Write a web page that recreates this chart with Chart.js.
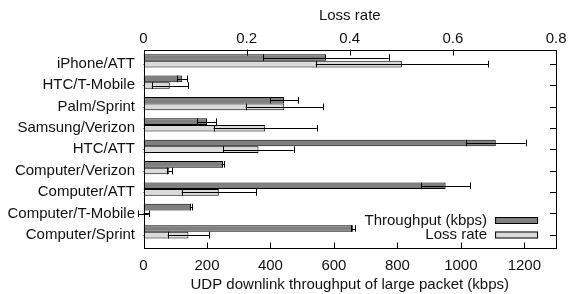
<!DOCTYPE html>
<html lang="en">
<head>
  <meta charset="UTF-8" />
  <title>UDP downlink throughput of large packet</title>
  <script src="https://cdn.jsdelivr.net/npm/chart.js"></script>
  <style>
    body { margin: 0; background: #fff; }
    #wrap { width: 568px; height: 294px; }
  </style>
</head>
<body>
  <div id="wrap"><canvas id="udpChart" width="568" height="294"></canvas></div>

  <script>
    // values
    const categories = ['iPhone/ATT', 'HTC/T-Mobile', 'Palm/Sprint', 'Samsung/Verizon', 'HTC/ATT',
                        'Computer/Verizon', 'Computer/ATT', 'Computer/T-Mobile', 'Computer/Sprint'];
    const throughput    = [575, 122, 443, 200, 1110, 250, 952, 150, 661];
    const throughputErr = [197, 15, 45, 30, 94, 4, 77, 3, 6];
    const lossRate      = [0.501, 0.051, 0.273, 0.236, 0.223, 0.05, 0.146, 0, 0.087];
    const lossErr       = [0.167, 0.035, 0.075, 0.1, 0.068, 0.005, 0.072, 0.01, 0.04];
    const throughputTicks = [0, 200, 400, 600, 800, 1000, 1200];
    const lossTicks = [0, 0.2, 0.4, 0.6, 0.8];

    const FONT = "'Liberation Sans', Arial, sans-serif";
    const TEXT = '#111';

    // frame, inward tics, error bars and the inside legend (gnuplot look)
    const gnuplotBits = {
      id: 'gnuplotBits',
      beforeDatasetsDraw(chart) {
        const { ctx, chartArea: a, scales } = chart;
        ctx.save();
        ctx.strokeStyle = '#000';
        ctx.lineWidth = 1;
        categories.forEach((c, i) => {
          const y = Math.round(scales.y.getPixelForValue(i) + 3) + 0.5;
          ctx.beginPath();
          ctx.moveTo(a.left, y); ctx.lineTo(a.left + 6, y);
          ctx.stroke();
        });
        ctx.restore();
      },
      afterDatasetsDraw(chart) {
        const { ctx } = chart;
        const errs = [throughputErr, lossErr];
        ctx.save();
        ctx.strokeStyle = '#000';
        ctx.lineWidth = 1;
        chart.data.datasets.forEach((ds, di) => {
          const meta = chart.getDatasetMeta(di);
          const xs = chart.scales[ds.xAxisID];
          meta.data.forEach((bar, i) => {
            const { y, height } = bar.getProps(['y', 'height'], true);
            const v = ds.data[i].x;
            const lo = xs.getPixelForValue(v - errs[di][i]);
            const hi = xs.getPixelForValue(v + errs[di][i]);
            const yy = Math.round(y) + 0.5;
            const h = height / 2;
            ctx.beginPath();
            ctx.moveTo(lo, yy); ctx.lineTo(hi, yy);
            ctx.moveTo(Math.round(lo) + 0.5, y - h); ctx.lineTo(Math.round(lo) + 0.5, y + h);
            ctx.moveTo(Math.round(hi) + 0.5, y - h); ctx.lineTo(Math.round(hi) + 0.5, y + h);
            ctx.stroke();
          });
        });
        ctx.restore();
      },
      afterDraw(chart) {
        const { ctx, chartArea: a, scales } = chart;
        ctx.save();
        ctx.strokeStyle = '#000';
        ctx.lineWidth = 1;
        ctx.strokeRect(Math.round(a.left) + 0.5, Math.round(a.top) + 0.5,
                       Math.round(a.right - a.left) - 1, Math.round(a.bottom - a.top) - 1);

        ctx.beginPath();
        throughputTicks.slice(1).forEach(v => {
          const x = Math.round(scales.x.getPixelForValue(v)) + 0.5;
          ctx.moveTo(x, a.bottom); ctx.lineTo(x, a.bottom - 6);
        });
        lossTicks.slice(1, -1).forEach(v => {
          const x = Math.round(scales.x2.getPixelForValue(v)) + 0.5;
          ctx.moveTo(x, a.top); ctx.lineTo(x, a.top + 6);
        });
        categories.forEach((c, i) => {
          const y = Math.round(scales.y.getPixelForValue(i) + 3) + 0.5;
          ctx.moveTo(a.right, y); ctx.lineTo(a.right - 6, y);
        });
        ctx.stroke();

        // legend inside the plot, bottom right
        ctx.font = '15px ' + FONT;
        ctx.textAlign = 'right';
        ctx.textBaseline = 'middle';
        chart.data.datasets.forEach((ds, di) => {
          const cy = a.bottom - 28 + di * 14.5;
          ctx.fillStyle = TEXT;
          ctx.fillText(ds.label, a.right - 69, cy);
          ctx.fillStyle = ds.backgroundColor;
          ctx.fillRect(a.right - 61, cy - 3.5, 43, 7);
          ctx.strokeRect(a.right - 60.5, cy - 3, 42, 6);
        });
        ctx.restore();
      }
    };

    new Chart(document.getElementById('udpChart').getContext('2d'), {
      type: 'bar',
      data: {
        datasets: [{
          label: 'Throughput (kbps)',
          data: throughput.map((v, i) => ({ x: v, y: i })),
          xAxisID: 'x',
          backgroundColor: '#808080',
          borderColor: '#000',
          borderWidth: 1
        }, {
          label: 'Loss rate',
          data: lossRate.map((v, i) => ({ x: v, y: i })),
          xAxisID: 'x2',
          backgroundColor: '#dadada',
          borderColor: '#000',
          borderWidth: 1
        }]
      },
      options: {
        indexAxis: 'y',
        responsive: false,
        animation: false,
        categoryPercentage: 0.62,
        barPercentage: 1,
        layout: { padding: { right: 8 } },
        plugins: { legend: { display: false }, tooltip: { enabled: false } },
        scales: {
          y: {
            type: 'linear',
            reverse: true,
            offset: false,
            min: -0.53,
            max: 8.78,
            grid: { display: false, drawTicks: false },
            border: { display: false },
            afterBuildTicks: s => { s.ticks = categories.map((c, i) => ({ value: i })); },
            afterFit: s => { s.width = 143.5; },
            ticks: {
              autoSkip: false,
              labelOffset: 3,
              padding: 8.5,
              color: TEXT,
              font: { family: FONT, size: 15 },
              callback: v => categories[v]
            }
          },
          x: {
            type: 'linear',
            position: 'bottom',
            min: 0,
            max: 1300,
            grid: { display: false, drawTicks: false },
            border: { display: false },
            afterBuildTicks: s => { s.ticks = throughputTicks.map(v => ({ value: v })); },
            afterFit: s => { s.height = 45.5; },
            ticks: { padding: 8.5, color: TEXT, font: { family: FONT, size: 15 }, callback: v => String(v) },
            title: {
              display: true,
              text: 'UDP downlink throughput of large packet (kbps)',
              color: TEXT,
              font: { family: FONT, size: 15 },
              padding: { top: 0, bottom: 0 }
            }
          },
          x2: {
            type: 'linear',
            position: 'top',
            min: 0,
            max: 0.8,
            grid: { display: false, drawTicks: false },
            border: { display: false },
            afterBuildTicks: s => { s.ticks = lossTicks.map(v => ({ value: v })); },
            afterFit: s => { s.height = 49.5; },
            ticks: {
              padding: 1.5,
              color: TEXT,
              font: { family: FONT, size: 15 },
              callback: v => String(Math.round(v * 10) / 10)
            },
            title: {
              display: true,
              text: 'Loss rate',
              color: TEXT,
              font: { family: FONT, size: 15 },
              padding: { top: 7, bottom: 0 }
            }
          }
        }
      },
      plugins: [gnuplotBits]
    });
  </script>
</body>
</html>
